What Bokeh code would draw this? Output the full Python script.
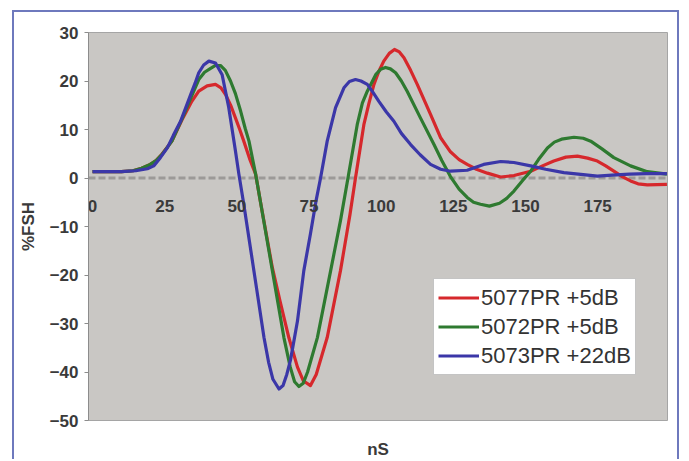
from bokeh.plotting import figure
from bokeh.models import Range1d, Legend, LegendItem, FixedTicker, LinearAxis, Span
from bokeh.embed import file_html
from bokeh.resources import INLINE

# ---- data ----
red_label = "5077PR +5dB"
green_label = "5072PR +5dB"
blue_label = "5073PR +22dB"

red_x = [0, 5, 10, 14, 17, 20, 22, 24, 27.5, 31, 34.4, 36.8, 39.7, 42.6, 44.5, 46.1, 48, 49.5, 51,
         52.4, 54.4, 56.5, 58.2, 62.3, 65, 68, 71, 73, 75.5, 77.5, 79.5, 81.3, 85.9, 89.2, 91.1, 94,
         95.8, 97.5, 99.2, 100.9, 102.8, 104.6, 106.3, 107.9, 110.2, 112.5, 117.1, 120.6, 124, 127,
         129.8, 133, 136.8, 141.4, 146, 151.8, 155.5, 159.8, 164, 168, 171.5, 174.9, 177.8, 180.6,
         183.5, 186.4, 189, 192.2, 199]
red_y = [1.3, 1.3, 1.3, 1.5, 2.0, 2.8, 3.6, 4.9, 7.6, 12.0, 15.8, 17.9, 19.0, 19.3, 18.6, 17.2, 14.8,
         12.4, 10.0, 7.6, 4.0, 0.8, -5.0, -18.5, -25.5, -32.9, -39, -41.8, -42.8, -40.5, -36.5, -32.9,
         -19.1, -7.5, 0, 11, 15.5, 19.3, 22, 24.1, 25.7, 26.5, 26, 24.8, 22.2, 19.3, 13.1, 8.3, 5.4,
         3.8, 2.8, 1.8, 1.0, 0.2, 0.5, 1.4, 2.4, 3.5, 4.3, 4.5, 4.1, 3.5, 2.5, 1.4, 0.3, -0.6, -1.2,
         -1.4, -1.3]

green_x = [0, 5, 10, 14, 17, 20, 22, 24, 27.5, 31, 34.4, 36.8, 38.8, 40.9, 42.6, 44.3, 46, 47.8, 49.5,
           51.3, 52.9, 54.2, 56.5, 58.2, 62.3, 66.3, 68.5, 70, 71.5, 73, 74.5, 77.9, 82.5, 85.9, 88.5,
           91.7, 93.5, 95.2, 98.1, 99.8, 101.5, 103.2, 105, 107, 109, 113.6, 118.3, 121, 124, 127,
           129.8, 132, 134.4, 137.5, 141, 143.5, 146, 149, 151.8, 154.5, 157.6, 160, 162.5, 166.8,
           170, 172.6, 176.5, 180.6, 186.4, 192.2, 199]
green_y = [1.3, 1.3, 1.3, 1.5, 2.0, 2.8, 3.6, 4.8, 7.6, 12.2, 17.0, 20.3, 21.8, 22.6, 23.2, 23.2, 22.2,
           20.0, 17.4, 13.8, 10.2, 7.6, 0.8, -5.0, -19.1, -32.9, -39, -42, -43, -42.3, -40, -32.9,
           -19.1, -8.8, 0, 11, 15.5, 17.9, 21.3, 22.4, 22.8, 22.5, 21.7, 20.0, 17.9, 12.4, 6.9, 3.6,
           0.3, -2.3, -4.0, -5.0, -5.4, -5.8, -5.2, -4.2, -2.7, -0.5, 1.4, 3.8, 6.2, 7.4, 8.0, 8.4,
           8.2, 7.6, 6.0, 4.2, 2.5, 1.3, 0.8]

blue_x = [0, 5, 10, 15, 19, 21.2, 23.5, 25.9, 28, 30.5, 32.3, 34, 35.5, 36.8, 38.5, 40.3, 42.6, 44.9,
          47.2, 49.5, 50.7, 52.4, 55.9, 59.4, 61, 62.5, 64.6, 66, 67.3, 68.6, 71, 73.2, 75.5, 77.5, 79,
          81.3, 84.2, 87.1, 89, 91.1, 93, 95.2, 97, 99.2, 101.8, 104.4, 107, 110.2, 113.5, 117.1,
          120.6, 124, 129.8, 135.5, 141.4, 146, 151.8, 157, 163.3, 170, 174.9, 180, 186, 192, 199]
blue_y = [1.3, 1.3, 1.3, 1.5, 1.9, 2.5, 4.2, 6.2, 8.8, 11.7, 14.5, 17.2, 19.5, 21.7, 23.3, 24.1, 23.7,
          21.3, 14.5, 5.6, 0.8, -5.4, -19.1, -32.9, -38, -41.5, -43.5, -42.8, -40.5, -37.5, -29.5,
          -19.1, -11.5, -4.5, 0, 7.6, 14.5, 18.6, 19.9, 20.3, 20.0, 19.3, 17.8, 15.8, 13.6, 11.7, 9.2,
          6.9, 4.8, 2.8, 1.8, 1.4, 1.6, 2.8, 3.4, 3.2, 2.5, 1.8, 1.1, 0.7, 0.4, 0.6, 0.8, 0.9, 0.9]

x_ticks = [0, 25, 50, 75, 100, 125, 150, 175]
y_ticks = [-50, -40, -30, -20, -10, 0, 10, 20, 30]

# ---- styles ----
FONT = "Liberation Sans"
TXT = "#3a3a3a"
frame_col = "#6E79BD"

p = figure(width=667, height=449, output_backend="svg", toolbar_location=None,
           x_range=Range1d(-1.4, 199.2), y_range=Range1d(-50, 30),
           min_border_left=74, min_border_top=20, min_border_right=14, min_border_bottom=37,
           background_fill_color="#C9C7C4", border_fill_color="white",
           outline_line_color="#A5A5A5", outline_line_width=1,
           margin=(10, 6, 0, 12),
           styles={"border-left": f"2px solid {frame_col}",
                   "border-top": f"2px solid {frame_col}",
                   "border-right": f"2px solid {frame_col}"})
p.grid.visible = False

zero = Span(location=0, dimension="width", line_color="#9C9A98", line_width=3,
            line_dash="7 3", level="underlay")
p.add_layout(zero)

r_red = p.line(red_x, red_y, line_color="#D6282C", line_width=3.2, line_join="round")
r_green = p.line(green_x, green_y, line_color="#2E7A30", line_width=3.2, line_join="round")
r_blue = p.line(blue_x, blue_y, line_color="#3B37A8", line_width=3.2, line_join="round")

# y axis
ya = p.yaxis[0]
ya.ticker = FixedTicker(ticks=y_ticks)
ya.axis_label = "%FSH"
ya.axis_label_text_font = FONT
ya.axis_label_text_font_size = "17px"
ya.axis_label_text_font_style = "bold"
ya.axis_label_text_color = TXT
ya.axis_label_standoff = 9
ya.major_label_text_font = FONT
ya.major_label_text_font_size = "17px"
ya.major_label_text_font_style = "bold"
ya.major_label_text_color = TXT
ya.major_label_standoff = 6
ya.major_tick_out = 4
ya.major_tick_in = 0
ya.minor_tick_out = 0
ya.minor_tick_in = 0
ya.axis_line_color = "#8C8C8C"
ya.major_tick_line_color = "#8C8C8C"

# x axis at y = 0
xa = p.xaxis[0]
xa.fixed_location = 0
xa.ticker = FixedTicker(ticks=x_ticks)
xa.axis_line_color = None
xa.major_tick_line_color = None
xa.minor_tick_line_color = None
xa.major_label_text_font = FONT
xa.major_label_text_font_size = "17px"
xa.major_label_text_font_style = "bold"
xa.major_label_text_color = TXT
xa.major_label_standoff = 16

# axis title for x
xt = LinearAxis(ticker=FixedTicker(ticks=[]), axis_line_color=None,
                major_tick_line_color=None, minor_tick_line_color=None,
                major_label_text_font_size="0px",
                axis_label="nS", axis_label_text_font=FONT, axis_label_text_font_size="17px",
                axis_label_text_font_style="bold", axis_label_text_color=TXT,
                axis_label_standoff=19)
p.add_layout(xt, "below")

legend = Legend(items=[LegendItem(label=red_label, renderers=[r_red]),
                       LegendItem(label=green_label, renderers=[r_green]),
                       LegendItem(label=blue_label, renderers=[r_blue])],
                location=(345, 45), label_text_font=FONT, label_text_font_size="22px",
                label_text_color="#333333", border_line_color="#8A8A8A", border_line_width=1,
                background_fill_color="white", background_fill_alpha=1.0,
                glyph_width=41, glyph_height=29, label_height=29, label_standoff=2,
                padding=4, spacing=0, margin=0)
p.add_layout(legend, "center")

open("out.html", "w").write(file_html(p, INLINE))
